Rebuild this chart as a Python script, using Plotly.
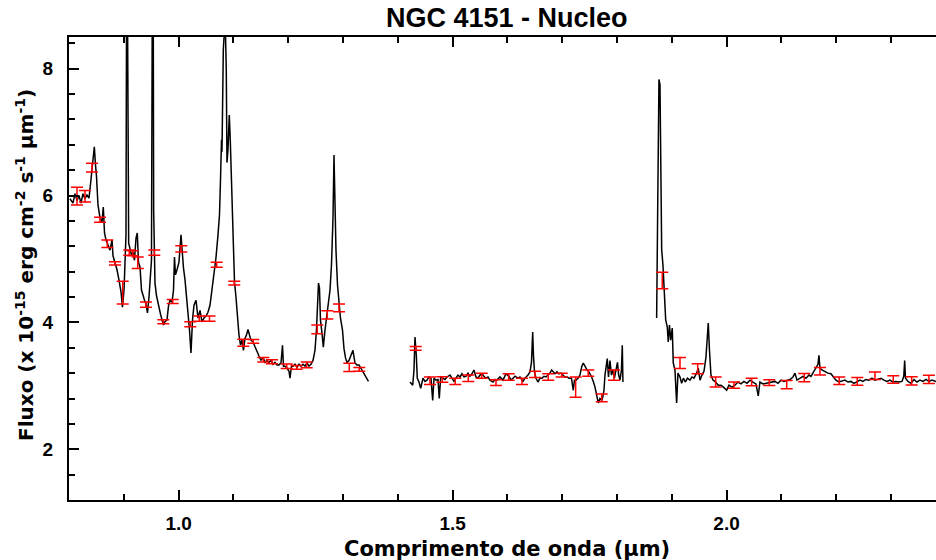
import plotly.graph_objects as go

# ---------------- data ----------------
seg1_wl = [0.8018, 0.8073, 0.8109, 0.8146, 0.8182, 0.8219, 0.8255, 0.8292, 0.8328, 0.8365,
           0.8401, 0.8438, 0.8462, 0.8484, 0.8502, 0.8529, 0.8566, 0.8602, 0.8626, 0.8648,
           0.8675, 0.8712, 0.8748, 0.8785, 0.8803, 0.8839, 0.8876, 0.8912, 0.8949, 0.8976,
           0.9004, 0.9022, 0.9040, 0.9052, 0.9064, 0.9089, 0.9113, 0.9141, 0.9168, 0.9195,
           0.9223, 0.9246, 0.9268, 0.9296, 0.9323, 0.9350, 0.9378, 0.9405, 0.9432, 0.9460,
           0.9487, 0.9505, 0.9522, 0.9536, 0.9545, 0.9569, 0.9597, 0.9633, 0.9670, 0.9697,
           0.9724, 0.9752, 0.9788, 0.9816, 0.9843, 0.9880, 0.9907, 0.9925, 0.9943, 0.9971,
           1.0007, 1.0044, 1.0062, 1.0089, 1.0117, 1.0153, 1.0181, 1.0199, 1.0226, 1.0254,
           1.0281, 1.0318, 1.0354, 1.0391, 1.0427, 1.0464, 1.0500, 1.0536, 1.0573, 1.0609,
           1.0646, 1.0682, 1.0719, 1.0746, 1.0765, 1.0783, 1.0792, 1.0816, 1.0838, 1.0856,
           1.0870, 1.0883, 1.0901, 1.0925, 1.0943, 1.0956, 1.0980, 1.1002, 1.1020, 1.1047,
           1.1078, 1.1102, 1.1130, 1.1157, 1.1184, 1.1212, 1.1239, 1.1266, 1.1294, 1.1321,
           1.1358, 1.1394, 1.1431, 1.1467, 1.1504, 1.1540, 1.1577, 1.1613, 1.1650, 1.1686,
           1.1723, 1.1759, 1.1796, 1.1832, 1.1869, 1.1896, 1.1914, 1.1942, 1.1978, 1.2015,
           1.2033, 1.2060, 1.2088, 1.2124, 1.2161, 1.2197, 1.2234, 1.2270, 1.2307, 1.2343,
           1.2380, 1.2416, 1.2453, 1.2489, 1.2516, 1.2535, 1.2553, 1.2571, 1.2589, 1.2617,
           1.2641, 1.2672, 1.2699, 1.2726, 1.2763, 1.2790, 1.2818, 1.2836, 1.2854, 1.2872,
           1.2900, 1.2927, 1.2954, 1.2991, 1.3018, 1.3046, 1.3073, 1.3109, 1.3146, 1.3182,
           1.3219, 1.3255, 1.3292, 1.3328, 1.3365, 1.3401, 1.3438, 1.3465]
seg1_flux = [5.95, 5.88, 6.03, 5.92, 6.00, 5.88, 6.03, 5.95, 6.01, 5.96,
             6.25, 6.56, 6.77, 6.48, 6.30, 5.85, 5.65, 5.58, 5.82, 5.41,
             5.30, 5.22, 5.14, 5.30, 5.05, 4.94, 4.83, 4.67, 4.48, 4.24,
             4.51, 4.94, 5.38, 9.60, 9.60, 5.25, 5.14, 5.06, 5.11, 4.98,
             5.33, 5.41, 4.95, 4.87, 4.51, 4.42, 4.35, 4.29, 4.15, 4.40,
             4.75, 4.98, 9.60, 9.60, 5.77, 4.62, 4.42, 4.26, 4.13, 4.04,
             3.96, 4.01, 4.04, 4.26, 4.35, 4.32, 4.51, 5.03, 4.75, 4.83,
             4.95, 5.38, 5.14, 4.86, 4.67, 4.35, 4.12, 3.88, 3.52, 4.04,
             4.27, 4.35, 4.07, 4.19, 4.01, 4.07, 4.10, 4.16, 4.27, 4.51,
             4.75, 5.02, 5.38, 5.69, 6.25, 6.88, 6.69, 8.30, 8.62, 8.55,
             7.98, 6.52, 6.72, 7.27, 6.88, 6.52, 5.82, 5.14, 4.64, 4.40,
             3.99, 3.80, 3.64, 3.72, 3.56, 3.75, 3.80, 3.89, 3.80, 3.72,
             3.69, 3.61, 3.53, 3.47, 3.40, 3.45, 3.37, 3.40, 3.37, 3.40,
             3.34, 3.37, 3.33, 3.33, 3.36, 3.64, 3.31, 3.31, 3.28, 3.23,
             3.12, 3.31, 3.31, 3.34, 3.29, 3.34, 3.31, 3.34, 3.31, 3.36,
             3.31, 3.34, 3.40, 3.56, 3.88, 4.35, 4.62, 4.54, 4.04, 3.83,
             3.61, 3.88, 4.07, 4.19, 4.51, 4.91, 5.65, 6.64, 5.62, 5.14,
             4.59, 4.27, 4.07, 3.88, 3.59, 3.44, 3.37, 3.40, 3.48, 3.56,
             3.36, 3.33, 3.33, 3.28, 3.22, 3.17, 3.12, 3.07]

seg2_wl = [1.4223, 1.4272, 1.4296, 1.4314, 1.4338, 1.4356, 1.4387, 1.4418, 1.4460, 1.4496,
           1.4533, 1.4569, 1.4606, 1.4637, 1.4661, 1.4697, 1.4734, 1.4757, 1.4783, 1.4825,
           1.4861, 1.4898, 1.4953, 1.4989, 1.5025, 1.5062, 1.5098, 1.5135, 1.5171, 1.5208,
           1.5244, 1.5281, 1.5317, 1.5354, 1.5390, 1.5427, 1.5463, 1.5500, 1.5536, 1.5573,
           1.5609, 1.5646, 1.5682, 1.5737, 1.5774, 1.5810, 1.5865, 1.5920, 1.5974, 1.6029,
           1.6066, 1.6102, 1.6139, 1.6193, 1.6230, 1.6285, 1.6321, 1.6376, 1.6412, 1.6440,
           1.6462, 1.6476, 1.6495, 1.6522, 1.6558, 1.6595, 1.6631, 1.6668, 1.6704, 1.6741,
           1.6777, 1.6808, 1.6832, 1.6869, 1.6905, 1.6942, 1.6978, 1.7015, 1.7051, 1.7088,
           1.7124, 1.7170, 1.7202, 1.7224, 1.7252, 1.7288, 1.7325, 1.7356, 1.7385, 1.7416,
           1.7453, 1.7489, 1.7538, 1.7571, 1.7599, 1.7630, 1.7659, 1.7690, 1.7721, 1.7744,
           1.7763, 1.7781, 1.7799, 1.7823, 1.7845, 1.7872, 1.7900, 1.7927, 1.7954, 1.7982,
           1.8009, 1.8031, 1.8055, 1.8082, 1.8097, 1.8109]
seg2_flux = [3.06, 3.01, 3.25, 3.77, 3.48, 3.12, 3.06, 2.96, 3.12, 3.07,
             3.09, 3.14, 3.12, 2.77, 3.12, 3.09, 3.10, 2.80, 3.14, 3.12,
             3.10, 3.14, 3.17, 3.12, 3.07, 3.12, 3.17, 3.14, 3.19, 3.14,
             3.15, 3.20, 3.15, 3.19, 3.25, 3.14, 3.12, 3.17, 3.19, 3.15,
             3.12, 3.14, 3.09, 3.06, 3.10, 3.09, 3.14, 3.09, 3.19, 3.15,
             3.09, 3.12, 3.15, 3.12, 3.14, 3.07, 3.12, 3.17, 3.22, 3.37,
             3.85, 3.48, 3.22, 3.12, 3.06, 3.12, 3.12, 3.15, 3.14, 3.17,
             3.20, 3.25, 3.22, 3.19, 3.22, 3.19, 3.20, 3.17, 3.14, 3.14,
             3.12, 3.12, 2.93, 3.09, 3.09, 3.12, 3.17, 3.30, 3.36, 3.31,
             3.25, 3.22, 3.14, 3.06, 2.98, 2.85, 2.73, 2.80, 2.77, 2.83,
             2.93, 3.17, 3.30, 3.43, 3.14, 3.40, 3.17, 3.25, 3.12, 3.28,
             3.37, 3.17, 3.09, 3.25, 3.64, 3.06]

seg3_wl = [1.8724, 1.8735, 1.8753, 1.8766, 1.8785, 1.8803, 1.8816, 1.8839, 1.8863, 1.8889,
           1.8918, 1.8936, 1.8958, 1.8980, 1.9009, 1.9027, 1.9058, 1.9089, 1.9113, 1.9150,
           1.9180, 1.9213, 1.9250, 1.9286, 1.9332, 1.9368, 1.9405, 1.9454, 1.9483, 1.9515,
           1.9551, 1.9588, 1.9624, 1.9651, 1.9666, 1.9688, 1.9715, 1.9752, 1.9801, 1.9848,
           1.9898, 1.9943, 2.0002, 2.0044, 2.0098, 2.0153, 2.0208, 2.0263, 2.0317, 2.0372,
           2.0427, 2.0482, 2.0536, 2.0578, 2.0609, 2.0664, 2.0719, 2.0774, 2.0828, 2.0883,
           2.0938, 2.0993, 2.1047, 2.1102, 2.1157, 2.1212, 2.1248, 2.1285, 2.1339, 2.1394,
           2.1449, 2.1504, 2.1540, 2.1582, 2.1613, 2.1644, 2.1668, 2.1686, 2.1704, 2.1741,
           2.1796, 2.1850, 2.1905, 2.1947, 2.1996, 2.2051, 2.2106, 2.2160, 2.2215, 2.2270,
           2.2325, 2.2380, 2.2434, 2.2489, 2.2544, 2.2599, 2.2653, 2.2708, 2.2763, 2.2818,
           2.2872, 2.2927, 2.2982, 2.3036, 2.3091, 2.3146, 2.3201, 2.3234, 2.3250, 2.3265,
           2.3310, 2.3365, 2.3420, 2.3474, 2.3529, 2.3584, 2.3639, 2.3693, 2.3748, 2.3821,
           2.3894, 2.4004]
seg3_flux = [4.07, 4.94, 5.88, 7.83, 7.75, 5.88, 5.14, 4.91, 4.46, 4.04,
             3.93, 3.69, 3.96, 3.72, 3.91, 3.36, 3.25, 2.73, 3.20, 3.14,
             3.04, 3.12, 3.06, 3.12, 3.09, 3.14, 3.12, 3.20, 3.28, 3.09,
             3.17, 3.23, 3.45, 3.72, 3.99, 3.56, 3.17, 3.09, 3.06, 3.01,
             3.01, 2.98, 2.93, 3.01, 2.98, 3.01, 3.06, 3.03, 3.07, 3.04,
             3.09, 3.06, 3.03, 2.84, 3.06, 3.03, 3.04, 3.06, 3.06, 3.07,
             3.04, 3.09, 3.07, 3.09, 3.10, 3.14, 3.20, 3.09, 3.12, 3.15,
             3.12, 3.17, 3.15, 3.22, 3.25, 3.30, 3.34, 3.48, 3.28, 3.25,
             3.22, 3.20, 3.19, 3.14, 3.09, 3.06, 3.07, 3.09, 3.06, 3.07,
             3.04, 3.07, 3.09, 3.07, 3.10, 3.09, 3.12, 3.09, 3.10, 3.12,
             3.09, 3.07, 3.09, 3.06, 3.07, 3.06, 3.07, 3.15, 3.40, 3.12,
             3.07, 3.04, 3.10, 3.06, 3.09, 3.07, 3.10, 3.07, 3.09, 3.07,
             3.09, 3.07]

err_wl = [0.8146, 0.8292, 0.8420, 0.8566, 0.8699, 0.8839, 0.8980, 0.9100, 0.9162, 0.9254,
          0.9405, 0.9557, 0.9721, 0.9892, 1.0049, 1.0214, 1.0378, 1.0564, 1.0695, 1.1016,
          1.1181, 1.1363, 1.1546, 1.1704, 1.1973, 1.2155, 1.2338, 1.2531, 1.2714, 1.2927,
          1.3115, 1.3297,
          1.4327, 1.4588, 1.4812, 1.5049, 1.5287, 1.5531, 1.5792, 1.6024, 1.6266, 1.6504,
          1.6746, 1.6991, 1.7246, 1.7476, 1.7721, 1.7945,
          1.8827, 1.9150, 1.9473, 1.9801, 2.0135, 2.0458, 2.0779, 2.1097, 2.1418, 2.1704,
          2.2056, 2.2385, 2.2708, 2.3042, 2.3378, 2.3693]
err_flux = [5.99, 5.99, 6.44, 5.62, 5.24, 4.93, 4.47, 5.10, 5.09, 4.94,
            4.28, 5.10, 4.01, 4.33, 5.16, 3.97, 4.06, 4.06, 4.91, 4.62,
            3.68, 3.70, 3.41, 3.38, 3.31, 3.29, 3.33, 3.89, 4.12, 4.23,
            3.29, 3.26,
            3.59, 3.08, 3.10, 3.07, 3.12, 3.16, 3.05, 3.14, 3.07, 3.18,
            3.14, 3.17, 2.98, 3.20, 2.81, 3.17,
            4.66, 3.36, 3.27, 3.06, 3.01, 3.06, 3.05, 3.02, 3.13, 3.23,
            3.08, 3.07, 3.16, 3.10, 3.08, 3.10]
err_sigma = [0.14, 0.09, 0.07, 0.04, 0.06, 0.025, 0.18, 0.04, 0.04, 0.09,
             0.04, 0.04, 0.03, 0.03, 0.05, 0.04, 0.04, 0.04, 0.04, 0.03,
             0.055, 0.03, 0.035, 0.03, 0.035, 0.03, 0.045, 0.07, 0.065, 0.06,
             0.065, 0.03,
             0.03, 0.06, 0.045, 0.05, 0.05, 0.04, 0.045, 0.05, 0.05, 0.05,
             0.05, 0.03, 0.16, 0.05, 0.06, 0.08,
             0.13, 0.085, 0.08, 0.08, 0.05, 0.06, 0.045, 0.065, 0.065, 0.06,
             0.06, 0.06, 0.06, 0.06, 0.065, 0.065]

x_ticks = [1.0, 1.5, 2.0]
x_ticklabels = ["1.0", "1.5", "2.0"]
y_ticks = [2, 4, 6, 8]
y_ticklabels = ["2", "4", "6", "8"]

# ---------------- figure ----------------
spec_x = seg1_wl + [None] + seg2_wl + [None] + seg3_wl
spec_y = seg1_flux + [None] + seg2_flux + [None] + seg3_flux

fig = go.Figure()
fig.add_trace(go.Scatter(
    x=spec_x, y=spec_y, mode="lines", connectgaps=False,
    line=dict(color="black", width=1.5), hoverinfo="skip", showlegend=False))
fig.add_trace(go.Scatter(
    x=err_wl, y=err_flux, mode="markers",
    marker=dict(size=1, color="red"),
    error_y=dict(type="data", array=err_sigma, visible=True,
                 color="red", thickness=1.5, width=6),
    showlegend=False))

axis_common = dict(
    showline=True, linecolor="black", linewidth=2,
    ticks="inside", tickcolor="black", tickwidth=2,
    showgrid=False, zeroline=False,
    tickfont=dict(family="Liberation Sans", size=19, color="black"),
)

fig.update_xaxes(
    **axis_common,
    range=[0.8, 2.3822], mirror="allticks",
    tickmode="array", tickvals=x_ticks, ticktext=["<b>%s</b>" % t for t in x_ticklabels],
    ticklen=10, ticklabelstandoff=5,
    minor=dict(ticks="inside", dtick=0.1, tick0=0.8, ticklen=6,
               tickwidth=2, tickcolor="black", showgrid=False),
)
fig.update_yaxes(
    **axis_common,
    range=[1.2, 8.5], mirror=False,
    tickmode="array", tickvals=y_ticks, ticktext=["<b>%s</b>" % t for t in y_ticklabels],
    ticklen=10, ticklabelstandoff=10,
    minor=dict(ticks="inside", dtick=0.4, tick0=0, ticklen=6,
               tickwidth=2, tickcolor="black", showgrid=False),
)

fig.add_annotation(
    text="<b>NGC 4151 - Nucleo</b>", xref="paper", yref="paper",
    x=0.505, y=1.0 + 19 / 463, xanchor="center", yanchor="middle", showarrow=False,
    font=dict(family="Liberation Sans", size=27, color="black"))
fig.add_annotation(
    text="<b>Comprimento de onda (μm)</b>", xref="paper", yref="paper",
    x=0.505, y=-49 / 463, xanchor="center", yanchor="middle", showarrow=False,
    font=dict(family="DejaVu Sans", size=21, color="black"))
fig.add_annotation(
    text="<b>Fluxo (x 10<sup>-15</sup> erg cm<sup>-2</sup> s<sup>-1</sup> μm<sup>-1</sup>)</b>",
    xref="paper", yref="paper", x=-44 / 867, y=235 / 463, textangle=-90,
    xanchor="center", yanchor="middle", showarrow=False,
    font=dict(family="DejaVu Sans", size=20, color="black"))

fig.update_layout(
    width=936, height=560,
    margin=dict(l=69, r=0, t=37, b=60),
    paper_bgcolor="white", plot_bgcolor="white",
)

fig.write_html("out.html")
